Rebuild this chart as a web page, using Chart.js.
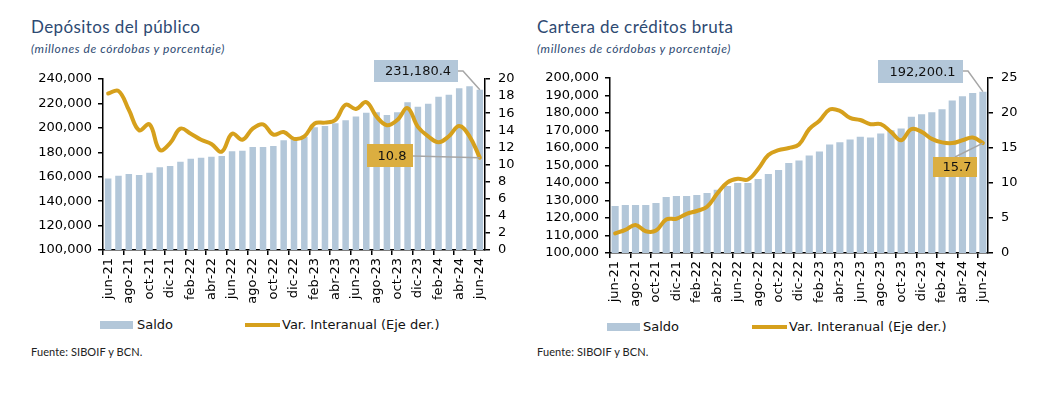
<!DOCTYPE html>
<html><head><meta charset="utf-8">
<script src="https://cdn.jsdelivr.net/npm/chart.js@4.4.1/dist/chart.umd.min.js"></script>
<style>
body{margin:0;width:1043px;height:393px;background:#fff;position:relative;overflow:hidden;font-family:'DejaVu Sans',sans-serif}
canvas{position:absolute}
.title{position:absolute;font-family:Lato,sans-serif;font-size:17px;line-height:20px;color:#2E4A72;white-space:nowrap;letter-spacing:0.4px}
.sub{position:absolute;font-family:Lato,sans-serif;font-style:italic;font-weight:400;font-size:12px;line-height:14px;color:#2E4A72;white-space:nowrap;letter-spacing:0.6px}
.src{position:absolute;font-family:Lato,sans-serif;font-weight:400;font-size:11px;line-height:13px;color:#222;white-space:nowrap;letter-spacing:0.1px}
.lg{position:absolute;font-family:'DejaVu Sans',sans-serif;font-size:13px;line-height:16px;color:#111;white-space:nowrap}
.sw{position:absolute}
</style>
</head><body>
<div class="title" style="left:31px;top:17px">Depósitos del público</div>
<div class="sub" style="left:31px;top:42px">(millones de córdobas y porcentaje)</div>
<div class="title" style="left:537px;top:17px">Cartera de créditos bruta</div>
<div class="sub" style="left:537px;top:42px">(millones de córdobas y porcentaje)</div>

<canvas id="c1" width="490" height="255" style="left:30px;top:55px"></canvas>
<canvas id="c2" width="513" height="258" style="left:530px;top:55px"></canvas>

<div class="sw" style="left:100px;top:321px;width:33px;height:8px;background:#B3C7D9"></div>
<div class="lg" style="left:137px;top:317px">Saldo</div>
<div class="sw" style="left:245px;top:323px;width:35px;height:4px;background:#D6A01C"></div>
<div class="lg" style="left:282px;top:317px">Var. Interanual (Eje der.)</div>

<div class="sw" style="left:607px;top:323px;width:33px;height:8px;background:#B3C7D9"></div>
<div class="lg" style="left:643px;top:319px">Saldo</div>
<div class="sw" style="left:752px;top:325px;width:35px;height:4px;background:#D6A01C"></div>
<div class="lg" style="left:789px;top:319px">Var. Interanual (Eje der.)</div>

<div class="src" style="left:31px;top:345px">Fuente: SIBOIF y BCN.</div>
<div class="src" style="left:537px;top:345px">Fuente: SIBOIF y BCN.</div>

<script>
const months = ['jun-21','jul-21','ago-21','sep-21','oct-21','nov-21','dic-21',
 'ene-22','feb-22','mar-22','abr-22','may-22','jun-22','jul-22','ago-22','sep-22','oct-22','nov-22','dic-22',
 'ene-23','feb-23','mar-23','abr-23','may-23','jun-23','jul-23','ago-23','sep-23','oct-23','nov-23','dic-23',
 'ene-24','feb-24','mar-24','abr-24','may-24','jun-24'];

const depositosSaldo = [158600,160800,162200,161400,163300,167700,168800,172300,174800,175600,176400,177000,
 180800,181300,184400,184400,185100,189800,191000,192800,200400,201500,203700,206200,209200,212400,212700,
 210500,212700,220900,217300,219800,225500,227200,232400,234000,231180.4];
const depositosVar = [18.3,18.6,16.4,14.0,14.7,11.7,12.5,14.2,13.6,12.9,12.4,11.5,13.6,12.9,14.2,14.7,13.5,
 13.8,13.0,13.3,14.8,14.9,15.2,17.0,16.5,17.3,15.6,14.6,15.2,16.6,14.4,13.3,12.6,13.3,14.5,13.3,10.8];

const creditoSaldo = [126900,127400,127400,127400,128600,132000,132600,132600,133100,134300,136200,138300,
 140000,140000,142300,145200,147500,151400,152800,155700,158000,162000,163300,164900,166400,166000,168300,
 170100,171200,177900,179300,180400,182100,187100,189600,191400,192200.1];
const creditoVar = [2.8,3.3,4.0,3.1,3.2,4.8,4.9,5.6,6.0,6.6,8.5,10.1,10.6,10.5,12.0,14.0,14.7,15.0,15.5,
 17.7,18.9,20.5,20.3,19.3,19.0,18.4,18.4,17.3,16.1,17.7,17.3,16.3,15.8,15.7,16.1,16.5,15.7];

const BAR = '#B3C7D9', LINE = '#D6A01C', GOLDBOX = '#DBAE40';
const FONT = {family:'DejaVu Sans', size:13};

const calloutPlugin = {
  id:'callout',
  afterDatasetsDraw(chart, args, opts){
    const ctx = chart.ctx;
    ctx.save();
    for (const it of opts.items) {
      const meta = chart.getDatasetMeta(it.ds);
      const el = meta.data[meta.data.length-1];
      const ds = chart.data.datasets[it.ds];
      const val = ds.data[ds.data.length-1];
      const [bx,by,bw,bh] = it.box;
      ctx.strokeStyle = '#A6A6A6'; ctx.lineWidth = 1.5;
      ctx.beginPath();
      ctx.moveTo(it.from[0], it.from[1]);
      if (it.via) ctx.lineTo(it.via[0], it.via[1]);
      ctx.lineTo(el.x, el.y);
      ctx.stroke();
      ctx.fillStyle = it.bg; ctx.fillRect(bx,by,bw,bh);
      ctx.fillStyle = '#111'; ctx.font = '13px "DejaVu Sans"';
      ctx.textAlign = 'center'; ctx.textBaseline = 'middle';
      ctx.fillText(it.fmt(val), bx+bw/2+2, by+bh/2+1);
    }
    ctx.restore();
  }
};

const fmtBig = v => v.toLocaleString('en-US',{minimumFractionDigits:1, maximumFractionDigits:1});
const fmtPct = v => v.toFixed(1);

function makeChart(id, p) {
  const axisBorder = {display:true, color:'#000', width:1.5};
  return new Chart(document.getElementById(id), {
    data: {
      labels: months,
      datasets: [
        {type:'line', data:p.line, yAxisID:'y1', borderColor:LINE, borderWidth:4, pointRadius:0, tension:0.4, order:0, borderCapStyle:'round'},
        {type:'bar', data:p.bars, yAxisID:'y', backgroundColor:BAR, barPercentage:p.barPct, categoryPercentage:1, order:1}
      ]
    },
    options: {
      responsive:false, animation:false, devicePixelRatio:1,
      layout:{padding:{top:p.padTop, left:0, right:0, bottom:0}},
      plugins:{legend:{display:false}, tooltip:{enabled:false}, callout:{items:p.callouts}},
      scales:{
        x:{
          offset:true,
          grid:{offset:true, drawOnChartArea:false, drawTicks:true, tickLength:5, lineWidth:1.5,
                tickColor:c => (c.index % 2 === 0 ? '#000' : 'rgba(0,0,0,0)')},
          border:axisBorder,
          ticks:{autoSkip:false, maxRotation:90, minRotation:90, padding:3, font:FONT, color:'#000',
                 callback:(v,i) => (i % 2 === 0 ? months[i] : '')},
          afterFit:s => { s.height = 60; }
        },
        y:{
          position:'left', min:p.yMin, max:p.yMax,
          ticks:{stepSize:p.yStep, autoSkip:false, padding:6, font:FONT, color:'#000',
                 callback:v => v.toLocaleString('en-US')},
          grid:{drawOnChartArea:false, tickLength:5, tickColor:'#000', lineWidth:1.5},
          border:axisBorder,
          afterFit:s => { s.width = p.leftW; }
        },
        y1:{
          position:'right', min:0, max:p.y1Max,
          ticks:{stepSize:p.y1Step, autoSkip:false, padding:8, font:FONT, color:'#000'},
          grid:{drawOnChartArea:false, tickLength:5, tickColor:'#000', lineWidth:1.5},
          border:axisBorder,
          afterFit:s => { s.width = p.rightW; }
        }
      }
    },
    plugins:[calloutPlugin]
  });
}

makeChart('c1', {
  bars:depositosSaldo, line:depositosVar, barPct:0.63, padTop:24,
  yMin:100000, yMax:240000, yStep:20000, y1Max:20, y1Step:2, leftW:73, rightW:35,
  callouts:[
    {ds:1, box:[344,5,84,22], from:[428,16], via:[433,16], bg:BAR, fmt:fmtBig},
    {ds:0, box:[337,89,46,23], from:[383,101], bg:GOLDBOX, fmt:fmtPct}
  ]
});

makeChart('c2', {
  bars:creditoSaldo, line:creditoVar, barPct:0.7, padTop:23,
  yMin:100000, yMax:200000, yStep:10000, y1Max:25, y1Step:5, leftW:80, rightW:55,
  callouts:[
    {ds:1, box:[348,5,85,23], from:[433,16], via:[438,16], bg:BAR, fmt:fmtBig},
    {ds:0, box:[403,102,44,20], from:[425,102], bg:GOLDBOX, fmt:fmtPct}
  ]
});
</script>
</body></html>
